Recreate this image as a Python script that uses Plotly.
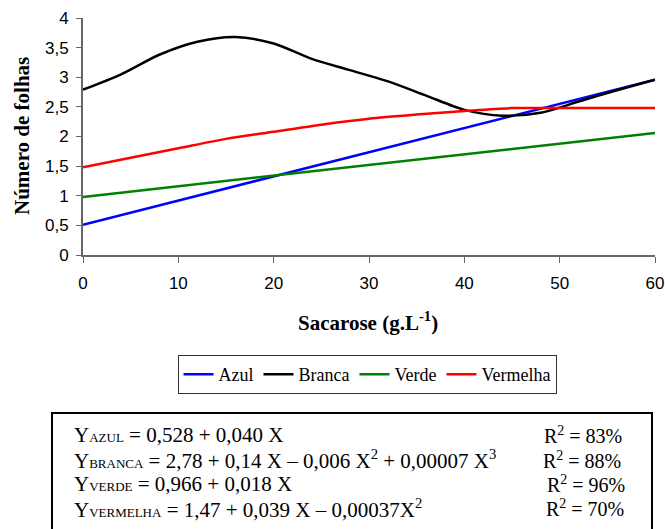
import plotly.graph_objects as go

# Data
x_lin = [0, 10, 20, 30, 40, 50, 60]
azul = [0.51, 0.92, 1.33, 1.74, 2.14, 2.55, 2.96]
verde = [0.98, 1.16, 1.34, 1.52, 1.70, 1.88, 2.06]

x_branca = [0, 4, 8, 12, 16, 20, 24, 28, 32, 36, 40, 44, 48, 52, 56, 60]
branca = [2.79, 3.05, 3.38, 3.60, 3.68, 3.57, 3.31, 3.12, 2.93, 2.69, 2.45, 2.35, 2.40, 2.59, 2.78, 2.96]

x_verm = [0, 5, 10, 15, 20, 25, 30, 35, 40, 45, 50, 55, 60]
vermelha = [1.48, 1.64, 1.80, 1.96, 2.08, 2.20, 2.30, 2.37, 2.43, 2.48, 2.48, 2.48, 2.48]

y_ticks = [0, 0.5, 1, 1.5, 2, 2.5, 3, 3.5, 4]
y_ticktext = ["0", "0,5", "1", "1,5", "2", "2,5", "3", "3,5", "4"]
x_ticks = [0, 10, 20, 30, 40, 50, 60]

eq_left = [
    "Y<span style='font-size:13px'>AZUL</span> = 0,528 + 0,040 X",
    "Y<span style='font-size:13px'>BRANCA</span> = 2,78 + 0,14 X \u2013 0,006 X<sup>2</sup> + 0,00007 X<sup>3</sup>",
    "Y<span style='font-size:13px'>VERDE</span> = 0,966 + 0,018 X",
    "Y<span style='font-size:13px'>VERMELHA</span> = 1,47 + 0,039 X \u2013 0,00037X<sup>2</sup>",
]
eq_right = ["R<sup>2</sup> = 83%", "R<sup>2</sup> = 88%", "R<sup>2</sup> = 96%", "R<sup>2</sup> = 70%"]

SERIF = "Liberation Serif, Times New Roman, Times, serif"
SANS = "Liberation Sans, Arial, Helvetica, sans-serif"

fig = go.Figure()
fig.add_trace(go.Scatter(x=x_lin, y=azul, mode="lines", name="Azul",
                         line=dict(color="#0000FF", width=2.5)))
fig.add_trace(go.Scatter(x=x_branca, y=branca, mode="lines", name="Branca",
                         line=dict(color="#000000", width=2.5, shape="spline", smoothing=0.8)))
fig.add_trace(go.Scatter(x=x_lin, y=verde, mode="lines", name="Verde",
                         line=dict(color="#008000", width=2.5)))
fig.add_trace(go.Scatter(x=x_verm, y=vermelha, mode="lines", name="Vermelha",
                         line=dict(color="#FF0000", width=2.5, shape="spline", smoothing=0.8)))

W, H = 665, 529
L, R, T, B = 83, 10, 18, 274
pw = W - L - R
ph = H - T - B

def px_to_paper_x(px):
    return (px - L) / pw

def px_to_paper_y(py):
    return (H - B - py) / ph

annotations = [
    dict(text="<b>Número de folhas</b>", xref="paper", yref="paper",
         x=px_to_paper_x(22), y=px_to_paper_y(136), textangle=-90, showarrow=False,
         xanchor="center", yanchor="middle",
         font=dict(family=SERIF, size=21, color="black")),
    dict(text="<b>Sacarose (g.L<sup>-1</sup>)</b>", xref="paper", yref="paper",
         x=px_to_paper_x(368), y=px_to_paper_y(322), showarrow=False,
         xanchor="center", yanchor="middle",
         font=dict(family=SERIF, size=21, color="black")),
]
left_y = [435, 460, 484, 508]
right_x = [542, 541, 545, 544]
for i in range(4):
    annotations.append(dict(text=eq_left[i], xref="paper", yref="paper",
                            x=px_to_paper_x(72), y=px_to_paper_y(left_y[i]),
                            xanchor="left", yanchor="middle", showarrow=False,
                            font=dict(family=SERIF, size=21, color="black")))
    annotations.append(dict(text=eq_right[i], xref="paper", yref="paper",
                            x=px_to_paper_x(right_x[i]), y=px_to_paper_y(left_y[i]),
                            xanchor="left", yanchor="middle", showarrow=False,
                            font=dict(family=SERIF, size=20, color="black")))

fig.update_layout(
    width=W, height=H,
    margin=dict(l=L, r=R, t=T, b=B, autoexpand=False),
    paper_bgcolor="white", plot_bgcolor="white",
    font=dict(family=SERIF),
    showlegend=True,
    legend=dict(orientation="h", x=px_to_paper_x(367), xanchor="center",
                y=px_to_paper_y(355), yanchor="top",
                bordercolor="#333333", borderwidth=1,
                font=dict(family=SERIF, size=18, color="black"),
                itemwidth=30, tracegroupgap=0),
    annotations=annotations,
    shapes=[dict(type="rect", xref="paper", yref="paper",
                 x0=px_to_paper_x(52), x1=px_to_paper_x(652),
                 y0=px_to_paper_y(413), y1=px_to_paper_y(545),
                 line=dict(color="black", width=2), fillcolor="rgba(0,0,0,0)")],
    xaxis=dict(range=[0, 60], tickvals=x_ticks, showgrid=False, zeroline=False,
               automargin=False,
               showline=True, linecolor="#666666", linewidth=2,
               ticks="outside", ticklen=6, tickcolor="#666666", tickwidth=1,
               ticklabelstandoff=6,
               tickfont=dict(family=SANS, size=17, color="black")),
    yaxis=dict(range=[0, 4], tickvals=y_ticks, ticktext=y_ticktext, showgrid=False,
               automargin=False,
               zeroline=False, showline=True, linecolor="#666666", linewidth=2,
               ticks="outside", ticklen=5, tickcolor="#666666", tickwidth=1,
               ticklabelstandoff=4,
               tickfont=dict(family=SANS, size=17, color="black")),
)

fig.write_html("out.html")
